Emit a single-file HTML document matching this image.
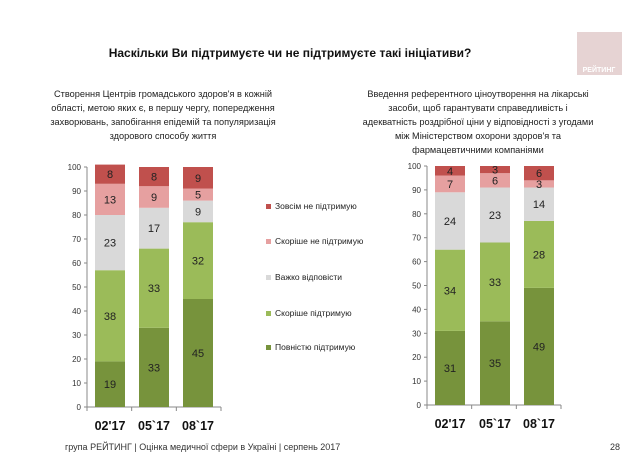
<!DOCTYPE html>
<html><head><meta charset="utf-8"><style>
body{margin:0;background:#fff;}
#wrap{position:relative;width:638px;height:456px;overflow:hidden;font-family:"Liberation Sans",sans-serif;}
svg text{font-family:"Liberation Sans",sans-serif;}
</style></head><body>
<div id="wrap">
<svg id="s" width="638" height="456" xmlns="http://www.w3.org/2000/svg">
<rect x="577" y="32" width="45" height="43" fill="#e6d3d3"/>
<text x="599" y="72" font-size="7" font-weight="bold" fill="#fff" text-anchor="middle">РЕЙТИНГ</text>
<text x="290" y="57" font-size="12" font-weight="bold" fill="#111" text-anchor="middle">Наскільки Ви підтримуєте чи не підтримуєте такі ініціативи?</text>
<g font-size="9.2" fill="#222" text-anchor="middle">
<text x="163" y="97">Створення Центрів громадського здоров'я в кожній</text>
<text x="163" y="111">області, метою яких є, в першу чергу, попередження</text>
<text x="163" y="125">захворювань, запобігання епідемій та популяризація</text>
<text x="163" y="139">здорового способу життя</text>
</g>
<g font-size="9.2" fill="#222" text-anchor="middle">
<text x="478" y="97">Введення референтного ціноутворення на лікарські</text>
<text x="478" y="111">засоби, щоб гарантувати справедливість і</text>
<text x="478" y="125">адекватність роздрібної ціни у відповідності з угодами</text>
<text x="478" y="139">між Міністерством охорони здоров'я та</text>
<text x="478" y="153">фармацевтичними компаніями</text>
</g>
<text x="65" y="450" font-size="9" fill="#333">група РЕЙТИНГ  |  Оцінка медичної сфери в Україні  |  серпень 2017</text>
<text x="620" y="450" font-size="9" fill="#333" text-anchor="end">28</text>
</svg>
</div>
<script>
const categories=["02'17","05`17","08`17"];
const seriesNames=["Повністю підтримую","Скоріше підтримую","Важко відповісти","Скоріше не підтримую","Зовсім не підтримую"];
const seriesColors=["#77933c","#9bbb59","#d9d9d9","#e6a0a0","#c0504d"];
const leftFull=[19,33,45];
const leftRather=[38,33,32];
const leftHard=[23,17,9];
const leftRatherNot=[13,9,5];
const leftNot=[8,8,9];
const rightFull=[31,35,49];
const rightRather=[34,33,28];
const rightHard=[24,23,14];
const rightRatherNot=[7,6,3];
const rightNot=[4,3,6];
const yTicks=[0,10,20,30,40,50,60,70,80,90,100];

const NS="http://www.w3.org/2000/svg";
const svg=document.getElementById('s');
function mk(t,a,p){const e=document.createElementNS(NS,t);for(const k in a)e.setAttribute(k,a[k]);(p||svg).appendChild(e);return e;}

function drawChart(name,series,x0,x1,y0,y100,barX,barW){
  const g=mk('g',{});
  
  
  const y=v=>y0-(y0-y100)*v/100;
  const ax=mk('line',{x1:x0,y1:y100,x2:x0,y2:y0,stroke:'#888','stroke-width':1},g);
  
  
  const bx=mk('line',{x1:x0,y1:y0,x2:x1,y2:y0,stroke:'#888','stroke-width':1},g);
  
  
  yTicks.forEach(t=>{
    mk('line',{x1:x0-3,y1:y(t),x2:x0,y2:y(t),stroke:'#888'},g);
    const tx=mk('text',{x:x0-6,y:y(t)+3,'font-size':8,fill:'#333','text-anchor':'end'},g);
    
    
    tx.textContent=t;
  });
  const step=(x1-x0)/categories.length;
  for(let i=0;i<=categories.length;i++)mk('line',{x1:x0+step*i,y1:y0,x2:x0+step*i,y2:y0+4,stroke:'#888'},g);
  categories.forEach((c,i)=>{
    const bxp=barX[i];
    let cum=0;
    series.forEach((arr,si)=>{
      const v=arr[i];
      const r=mk('rect',{x:bxp,y:y(cum+v),width:barW,height:y(cum)-y(cum+v),fill:seriesColors[si]},g);
      
      
      const lt=mk('text',{x:bxp+barW/2,y:(y(cum)+y(cum+v))/2+4,'font-size':11,fill:'#222','text-anchor':'middle'},g);
      
      
      lt.textContent=v;
      cum+=v;
    });
    const ct=mk('text',{x:bxp+barW/2,y:y0+23,'font-size':12.5,'font-weight':'bold',fill:'#111','text-anchor':'middle'},g);
    
    
    ct.textContent=c;
  });
}
drawChart('left-chart',[leftFull,leftRather,leftHard,leftRatherNot,leftNot],87,221,407,167,[95,139,183],30);
drawChart('right-chart',[rightFull,rightRather,rightHard,rightRatherNot,rightNot],427,561,405,166,[435,480,524],30);

const legendY=[350,316,280,244,209];
const lg=mk('g',{});


seriesNames.forEach((n,i)=>{
  const it=mk('g',{},lg);
  
  
  mk('rect',{x:266,y:legendY[i]-5,width:5,height:5,fill:seriesColors[i]},it);
  const t=mk('text',{x:275,y:legendY[i],'font-size':8.5,fill:'#222'},it);
  t.textContent=n;
});
</script>
</body></html>
